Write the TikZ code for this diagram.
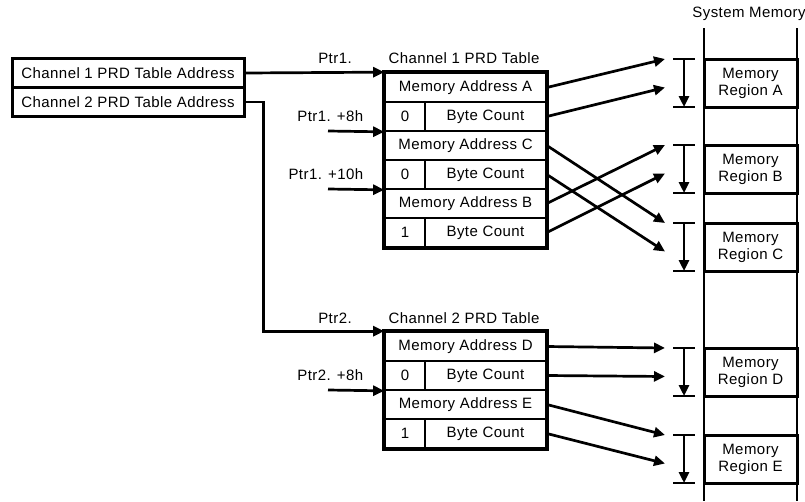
\documentclass[tikz,border=0pt]{standalone}
\usepackage{fontspec}
\setmainfont[LetterSpace=3]{Liberation Sans}
\usetikzlibrary{arrows.meta}
\tikzset{
every picture/.style={
line width=2.7pt
}}

\begin{document}
\begin{tikzpicture}[x=1pt, y=-1pt, font=\fontsize{15}{17}\selectfont,
cell/.style = {rectangle, draw=black, line width=1.7pt, inner sep=0pt, minimum height=29pt},
wide/.style = {cell, minimum width=161pt},
flag/.style = {cell, minimum width=40pt},
count/.style = {cell, minimum width=121pt},
addr/.style = {rectangle, draw=black, line width=3pt, inner sep=0pt, minimum width=232pt, minimum height=29pt},
region/.style = {rectangle, draw=black, line width=3pt, inner sep=0pt, minimum width=93pt, minimum height=48pt, align=center},
ptr/.style = {-{Triangle[length=11pt,width=10pt]}}]

\useasboundingbox (0,0) rectangle (805,501);

% system memory column
\node (sysmem) at (749,14) {System Memory};
\draw (704,28) -- (704,501);
\draw (797,28) -- (797,501);
\foreach \r/\t in {A/59,B/145,C/223,D/348,E/435}{
  \node[region] (reg\r) at (750.5,\t+24) {Memory\\Region \r};
  \draw (673,\t) -- (695,\t) (673,\t+48) -- (695,\t+48);
  \draw[ptr] (684,\t) -- (684,\t+48);
  \coordinate (top\r) at (665,\t);
  \coordinate (mid\r) at (665,\t+28.5);
}

% table addresses
\node[addr] (ch1) at (128,73) {Channel 1 PRD Table Address};
\node[addr] (ch2) at (128,102) {Channel 2 PRD Table Address};

% channel 1 table
\node (tab1) at (464,58) {Channel 1 PRD Table};
\node[wide] (t1a) at (465.5,87.5) {Memory Address A};
\node[flag] (t1b) at (405,116.5) {0};
\node[count] (t1bc) at (485.5,116.5) {Byte Count};
\node[wide] (t1c) at (465.5,145.5) {Memory Address C};
\node[flag] (t1d) at (405,174.5) {0};
\node[count] (t1dc) at (485.5,174.5) {Byte Count};
\node[wide] (t1e) at (465.5,203.5) {Memory Address B};
\node[flag] (t1f) at (405,232.5) {1};
\node[count] (t1fc) at (485.5,232.5) {Byte Count};
\draw[line width=3.5pt] (t1a.north west) rectangle (t1fc.south east);

% channel 2 table
\node (tab2) at (464,318) {Channel 2 PRD Table};
\node[wide] (t2a) at (465.5,346.5) {Memory Address D};
\node[flag] (t2b) at (405,375.5) {0};
\node[count] (t2bc) at (485.5,375.5) {Byte Count};
\node[wide] (t2c) at (465.5,404.5) {Memory Address E};
\node[flag] (t2d) at (405,433.5) {1};
\node[count] (t2dc) at (485.5,433.5) {Byte Count};
\draw[line width=3.5pt] (t2a.north west) rectangle (t2dc.south east);

% pointers
\node (p1) at (335,58) {Ptr1.};
\draw[ptr] (ch1.east) -- (t1a.north west);
\node (p2) at (335,318) {Ptr2.};
\draw[ptr] (ch2.east) -- ++(18,0) |- (t2a.north west);
\coordinate (p18) at (328,131);
\node[anchor=east] (p18l) at (368,116) {Ptr1. +8h};
\draw[ptr] (p18) -- (t1b.south west);
\coordinate (p110) at (328,189);
\node[anchor=east] (p110l) at (368,174) {Ptr1. +10h};
\draw[ptr] (p110) -- (t1d.south west);
\coordinate (p28) at (328,390);
\node[anchor=east] (p28l) at (368,375) {Ptr2. +8h};
\draw[ptr] (p28) -- (t2b.south west);

% entries to memory
\draw[ptr] (t1a.east) -- (topA);
\draw[ptr] (t1bc.east) -- (midA);
\draw[ptr] (t1c.east) -- (topC);
\draw[ptr] (t1dc.east) -- (midC);
\draw[ptr] (t1e.east) -- (topB);
\draw[ptr] (t1fc.east) -- (midB);
\draw[ptr] (t2a.east) -- (topD);
\draw[ptr] (t2bc.east) -- (midD);
\draw[ptr] (t2c.east) -- (topE);
\draw[ptr] (t2dc.east) -- (midE);
\end{tikzpicture}
\end{document}
